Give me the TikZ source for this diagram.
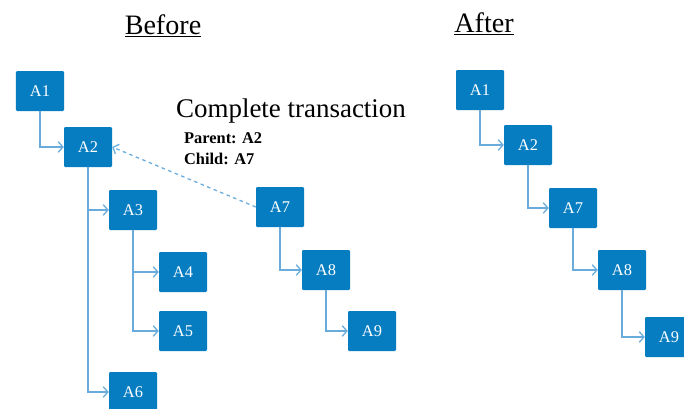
\documentclass[tikz,border=0pt]{standalone}
\usepackage{fontspec}
\setmainfont{Liberation Serif}
\usetikzlibrary{arrows.meta}

\definecolor{boxblue}{RGB}{6,124,193}
\definecolor{linkblue}{RGB}{105,172,220}

\tikzset{
    box/.style={fill=boxblue, text=white, rounded corners=1pt,
        minimum width=1.44cm, minimum height=1.2cm, inner sep=0pt,
        font=\fontsize{14}{16}\selectfont},
    link/.style={draw=linkblue, line width=1.1pt, -{Straight Barb[length=4pt,width=9pt]}},
    title/.style={anchor=base, font=\fontsize{24}{28}\selectfont}
}

\begin{document}
\begin{tikzpicture}[x=0.03cm, y=-0.03cm]

    \useasboundingbox (0,0) rectangle (684,408);

    % Titles
    \node[title] (before) at (163,34) {\underline{Before}};
    \node[title] (after) at (484,32) {\underline{After}};

    % Before
    \node[box] (b1) at (40,91) {A1};
    \node[box] (b2) at (88,147) {A2};
    \node[box] (b3) at (133,210) {A3};
    \node[box] (b4) at (183,272) {A4};
    \node[box] (b5) at (183,331) {A5};
    \node[box] (b6) at (133,392) {A6};
    \node[box] (b7) at (280,207) {A7};
    \node[box] (b8) at (326,270) {A8};
    \node[box] (b9) at (372,331) {A9};

    \draw[link] (b1.south) |- (b2.west);
    \draw[link] (b2.south) |- (b3.west);
    \draw[link] (b2.south) |- (b6.west);
    \draw[link] (b3.south) |- (b4.west);
    \draw[link] (b3.south) |- (b5.west);
    \draw[link] (b7.south) |- (b8.west);
    \draw[link] (b8.south) |- (b9.west);

    % Transaction
    \node[anchor=base west, font=\fontsize{23}{27}\selectfont] (ct) at (172,117) {Complete transaction};
    \node[anchor=base west, font=\fontsize{14}{16}\selectfont\bfseries] (par) at (180,143) {Parent: A2};
    \node[anchor=base west, font=\fontsize{14}{16}\selectfont\bfseries] (chi) at (180,164) {Child: A7};
    \draw[link, dashed] (b7.west) -- (b2.east);

    % After
    \node[box] (a1) at (480,90) {A1};
    \node[box] (a2) at (528,145) {A2};
    \node[box] (a7) at (573,208) {A7};
    \node[box] (a8) at (622,270) {A8};
    \node[box] (a9) at (669,337) {A9};

    \draw[link] (a1.south) |- (a2.west);
    \draw[link] (a2.south) |- (a7.west);
    \draw[link] (a7.south) |- (a8.west);
    \draw[link] (a8.south) |- (a9.west);

\end{tikzpicture}
\end{document}
